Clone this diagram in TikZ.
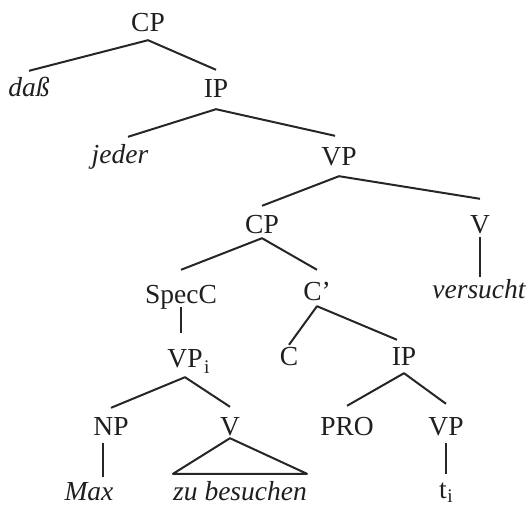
\documentclass[tikz,border=0pt]{standalone}
\usepackage{fontspec}
\setmainfont{Liberation Serif}
\begin{document}
\begin{tikzpicture}[x=1pt,y=-1pt,
  lbl/.style={anchor=base,inner sep=0pt,text height=27pt,text depth=7pt,
    font=\fontsize{27.5}{30}\selectfont,text=black!88},
  leaf/.style={lbl,font=\fontsize{27.5}{30}\selectfont\itshape},
  branch/.style={line width=2pt,draw=black!85,line join=round}]
\useasboundingbox (0,0) rectangle (527,508);

% categories and words (placed at their baselines)
\node[lbl,text depth=8pt] (cp0) at (148,32) {CP};
\node[leaf,text height=26pt] (dass) at (29,97) {daß};
\node[lbl,text height=28pt,text depth=11pt] (ip0) at (216,98) {IP};
\node[leaf,text height=26pt] (jeder) at (120,163) {jeder};
\node[lbl,text height=29pt,text depth=11pt] (vp0) at (339,165) {VP};
\node[lbl,text height=27pt,text depth=5pt] (cp1) at (262,233) {CP};
\node[lbl,text height=34pt,text depth=4pt] (vr) at (480,233) {V};
\node[leaf,text height=21pt] (vers) at (479,298) {versucht};
\node[lbl,text height=33pt,text depth=4pt] (spec) at (181,303) {SpecC};
\node[lbl,text height=30pt,text depth=6pt] (cbar) at (317,300) {C'};
\node[lbl,text height=34pt,text depth=10pt] (vpi) at (185,367) {VP\rlap{\kern1.5pt\raisebox{-2pt}{\textsubscript{i}}}};
\node[lbl,text height=20pt] (c) at (289,365) {C};
\node[lbl,text height=25pt,text depth=8pt] (ip1) at (404,365) {IP};
\node[lbl,text height=27pt,text depth=8pt] (np) at (111,435) {NP};
\node[lbl,text height=28pt,text depth=3pt] (vm) at (230,435) {V};
\node[lbl,text height=29pt] (pro) at (347,435) {PRO};
\node[lbl,text height=31pt,text depth=8pt] (vp1) at (446,435) {VP};
\node[leaf,text height=23pt] (max) at (89,500) {Max};
\node[leaf,text height=26pt] (zu) at (240,500) {zu besuchen};
\node[lbl,text height=24pt] (ti) at (443,498) {t\rlap{\kern0.5pt\textsubscript{i}}};

% branches
\draw[branch] (dass.north) -- (cp0.south) -- (ip0.north);
\draw[branch] ([xshift=8pt]jeder.north) -- (ip0.south) -- ([xshift=-4pt]vp0.north);
\draw[branch] (cp1.north) -- (vp0.south) -- (vr.north);
\draw[branch] (vr.south) -- (vr.south |- vers.north);
\draw[branch] (spec.north) -- (cp1.south) -- (cbar.north);
\draw[branch] (spec.south) -- (spec.south |- vpi.north);
\draw[branch] (c.north) -- (cbar.south) -- ([xshift=-7pt]ip1.north);
\draw[branch] (np.north) -- (vpi.south) -- (vm.north);
\draw[branch] (pro.north) -- (ip1.south) -- (vp1.north);
\draw[branch] ([xshift=-8pt]np.south) -- ([xshift=-8pt]np.south |- max.north);
\draw[branch] (vm.south) -- (zu.north east) -- (zu.north west) -- cycle;
\draw[branch] (vp1.south) -- (vp1.south |- ti.north);
\end{tikzpicture}
\end{document}
